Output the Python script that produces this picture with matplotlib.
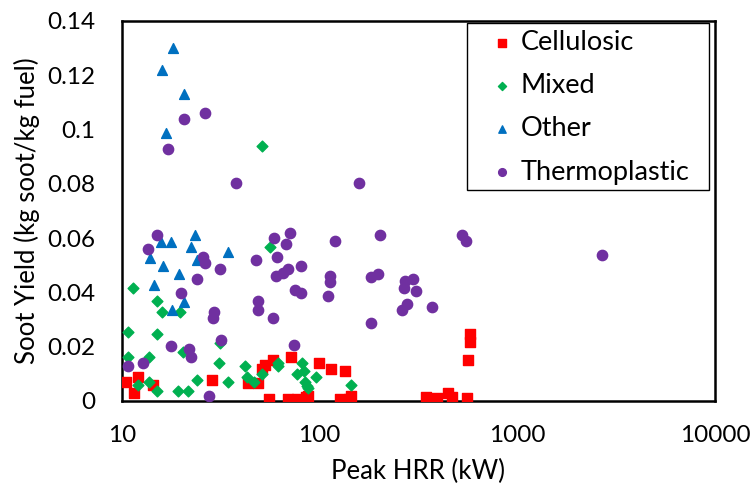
import matplotlib
matplotlib.use("Agg")
import matplotlib.pyplot as plt
from matplotlib.patches import Rectangle
from matplotlib.ticker import FixedLocator, FixedFormatter

# Peak HRR (kW) and soot yield (kg soot/kg fuel)
cell_x = [10.5, 12.1, 11.5, 14.3, 28.4, 43.5, 48.9, 50.9, 52.9, 58.3, 71.8, 99.2, 114.5, 134.3,
          575, 575, 564, 55.6, 69.4, 76.5, 85.2, 87.6, 126.6, 140.2, 143.5, 345, 391, 444, 465, 554]
cell_y = [0.0069, 0.0089, 0.0028, 0.0059, 0.0078, 0.0065, 0.0065, 0.0119, 0.0131, 0.0150, 0.0161,
          0.0140, 0.0119, 0.0109, 0.0245, 0.0218, 0.0150, 0.0008, 0.0008, 0.0008, 0.0014, 0.0018,
          0.0008, 0.0008, 0.0018, 0.0016, 0.0010, 0.0028, 0.0016, 0.0010]

mixed_x = [51.3, 56.2, 11.4, 15.0, 15.9, 19.7, 10.7, 15.0, 31.2, 10.7, 13.65, 20.3, 30.8, 41.7,
           61.3, 61.7, 81.8, 43.0, 51.3, 12.0, 13.65, 15.0, 24.1, 34.4, 46.7, 76.8, 83.3, 84.6,
           86.6, 87.3, 95.8, 144, 19.3, 21.6]
mixed_y = [0.0938, 0.0569, 0.0417, 0.0368, 0.0326, 0.0326, 0.0255, 0.0245, 0.0215, 0.0163, 0.0161,
           0.0179, 0.0140, 0.0130, 0.0140, 0.0128, 0.0140, 0.0089, 0.0099, 0.0059, 0.0070, 0.0038,
           0.0078, 0.0069, 0.0069, 0.0099, 0.0109, 0.0071, 0.0056, 0.0048, 0.0089, 0.0059, 0.0038,
           0.0038]

other_x = [18.2, 15.9, 20.6, 16.7, 15.7, 17.6, 23.5, 22.3, 13.8, 16.2, 19.4, 14.5, 20.6, 17.9, 34.4, 24.1]
other_y = [0.1302, 0.1221, 0.1130, 0.0987, 0.0586, 0.0586, 0.0610, 0.0568, 0.0526, 0.0497, 0.0467,
           0.0427, 0.0365, 0.0335, 0.0548, 0.0519]

thermo_x = [20.6, 26.2, 17.0, 37.7, 157.5, 15.0, 13.6, 58.5, 70.8, 67.5, 61.2, 47.5, 25.8, 26.3,
            31.3, 80.4, 69.5, 65.4, 60.3, 24.1, 19.9, 75.4, 80.4, 48.9, 48.9, 29.3, 28.8, 58.3,
            31.8, 17.6, 21.9, 22.3, 74.3, 12.8, 10.7, 27.5, 119.8, 203, 523, 549, 2669, 112.5,
            112.5, 181.8, 197.2, 271, 295, 267, 308, 110.8, 260, 277, 369, 181.8]
thermo_y = [0.1040, 0.1060, 0.0928, 0.0802, 0.0802, 0.0610, 0.0559, 0.0600, 0.0620, 0.0580, 0.0529,
            0.0519, 0.0532, 0.0510, 0.0488, 0.0499, 0.0488, 0.0472, 0.0459, 0.0449, 0.0399, 0.0410,
            0.0396, 0.0367, 0.0337, 0.0328, 0.0307, 0.0307, 0.0226, 0.0201, 0.0191, 0.0161, 0.0205,
            0.0140, 0.0130, 0.0018, 0.0590, 0.0610, 0.0610, 0.0590, 0.0538, 0.0459, 0.0437, 0.0457,
            0.0467, 0.0442, 0.0448, 0.0417, 0.0407, 0.0388, 0.0336, 0.0357, 0.0347, 0.0286]

y_ticks = [0, 0.02, 0.04, 0.06, 0.08, 0.1, 0.12, 0.14]
y_labels = ["0", "0.02", "0.04", "0.06", "0.08", "0.1", "0.12", "0.14"]
x_ticks = [10, 100, 1000, 10000]
x_labels = ["10", "100", "1000", "10000"]

plt.rcParams["font.family"] = ["Lato", "DejaVu Sans"]

fig = plt.figure(figsize=(7.52, 4.94), dpi=100)
ax = fig.add_axes([0.1622, 0.1883, 0.7886, 0.7692])

ax.scatter(cell_x, cell_y, marker="s", s=55, color="#FF0000", label="Cellulosic", zorder=3)
ax.scatter(mixed_x, mixed_y, marker="D", s=30, color="#00B050", label="Mixed", zorder=3)
ax.scatter(other_x, other_y, marker="^", s=50, color="#0070C0", label="Other", zorder=3)
ax.scatter(thermo_x, thermo_y, marker="o", s=55, color="#7030A0", label="Thermoplastic", zorder=3)

ax.set_xscale("log")
ax.set_xlim(10, 10000)
ax.set_ylim(0, 0.14)
ax.xaxis.set_major_locator(FixedLocator(x_ticks))
ax.xaxis.set_major_formatter(FixedFormatter(x_labels))
ax.xaxis.set_minor_locator(FixedLocator([]))
ax.yaxis.set_major_locator(FixedLocator(y_ticks))
ax.yaxis.set_major_formatter(FixedFormatter(y_labels))
ax.tick_params(axis="both", length=0, labelsize=17.5)
ax.tick_params(axis="x", pad=17)
ax.tick_params(axis="y", pad=19.5)

for sp in ax.spines.values():
    sp.set_linewidth(1.8)
    sp.set_color("black")

ax.set_xlabel("Peak HRR (kW)", fontsize=18.5, labelpad=9.5)
ax.set_ylabel("Soot Yield (kg soot/kg fuel)", fontsize=18.5, labelpad=5)

# legend entries without frame, frame drawn as a separate box
leg = ax.legend(loc="upper left", bbox_to_anchor=(0.618, 0.976), fontsize=19.5,
                markerscale=0.75, frameon=False, handlelength=1.0,
                handletextpad=0.2, labelspacing=0.67, borderpad=0, borderaxespad=0)
ax.add_patch(Rectangle((0.582, 0.555), 0.408, 0.439, transform=ax.transAxes,
                       fill=False, edgecolor="black", linewidth=1.0, zorder=4))

fig.savefig("out.png", dpi=100)
